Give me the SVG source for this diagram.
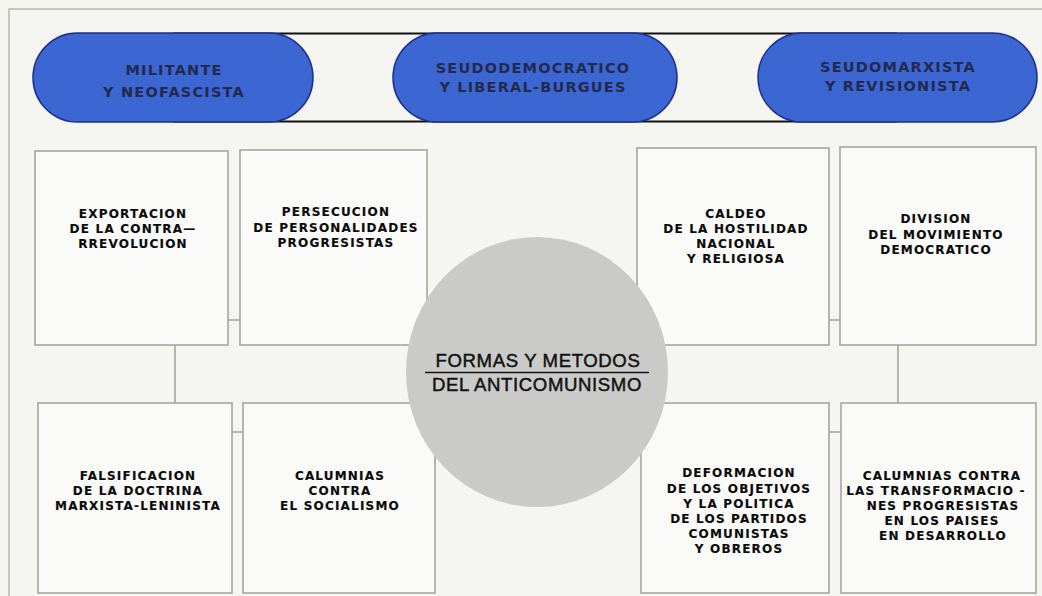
<svg xmlns="http://www.w3.org/2000/svg" width="1042" height="596" viewBox="0 0 1042 596">
<style>
.bg{fill:#f5f5f2}
.frame{fill:none;stroke:#bab7b0;stroke-width:1.5}
.box{fill:#fafaf8;stroke:#a9a69f;stroke-width:1.6}
.conn{fill:none;stroke:#a9a69f;stroke-width:1.6}
.pill{fill:#3c66d2;stroke:#1d2f8c;stroke-width:1.5}
.band{stroke:#111;stroke-width:2}
.pt{font-family:"DejaVu Sans","Liberation Sans",sans-serif;font-weight:bold;font-size:14.5px;letter-spacing:1.2px;fill:#232a4e;text-anchor:middle}
.bt{font-family:"DejaVu Sans","Liberation Sans",sans-serif;font-weight:bold;font-size:12px;letter-spacing:1.2px;fill:#0a0a0a;text-anchor:middle;stroke:#0a0a0a;stroke-width:0.15}
.ct{font-family:"Liberation Sans",Arial,sans-serif;font-size:18.6px;letter-spacing:0.6px;fill:#111;text-anchor:middle;stroke:#111;stroke-width:0.45}
</style>
<rect class="bg" x="0" y="0" width="1042" height="596"/>
<path class="frame" d="M9,596 V9 H1042"/>

<g id="connectors">
<line class="band" x1="173" y1="33.5" x2="897" y2="33.5"/>
<line class="band" x1="173" y1="121.5" x2="897" y2="121.5"/>
<line class="conn" x1="228" y1="320" x2="240" y2="320"/>
<line class="conn" x1="175" y1="345" x2="175" y2="403"/>
<line class="conn" x1="232" y1="432" x2="243" y2="432"/>
<line class="conn" x1="829" y1="320" x2="840" y2="320"/>
<line class="conn" x1="898" y1="345" x2="898" y2="403"/>
<line class="conn" x1="829" y1="432" x2="841" y2="432"/>
</g>

<g id="pill-militante">
<rect class="pill" x="33" y="33" width="280" height="89" rx="44.5"/>
<text class="pt" x="174" y="75">MILITANTE</text>
<text class="pt" x="174" y="97">Y NEOFASCISTA</text>
</g>
<g id="pill-seudodemocratico">
<rect class="pill" x="393" y="33" width="284" height="89" rx="44.5"/>
<text class="pt" x="533" y="73">SEUDODEMOCRATICO</text>
<text class="pt" x="533" y="92">Y LIBERAL-BURGUES</text>
</g>
<g id="pill-seudomarxista">
<rect class="pill" x="758" y="33" width="279" height="89" rx="44.5"/>
<text class="pt" x="898" y="72">SEUDOMARXISTA</text>
<text class="pt" x="898" y="91">Y REVISIONISTA</text>
</g>

<g id="box-exportacion">
<rect class="box" x="35" y="151" width="193" height="194"/>
<text class="bt" x="133" y="218">EXPORTACION</text>
<text class="bt" x="133" y="233">DE LA CONTRA—</text>
<text class="bt" x="133" y="248">RREVOLUCION</text>
</g>
<g id="box-persecucion">
<rect class="box" x="240" y="150" width="187" height="195"/>
<text class="bt" x="336" y="216">PERSECUCION</text>
<text class="bt" x="336" y="232">DE PERSONALIDADES</text>
<text class="bt" x="336" y="247">PROGRESISTAS</text>
</g>
<g id="box-caldeo">
<rect class="box" x="637" y="148" width="192" height="197"/>
<text class="bt" x="736" y="218">CALDEO</text>
<text class="bt" x="736" y="233">DE LA HOSTILIDAD</text>
<text class="bt" x="736" y="248">NACIONAL</text>
<text class="bt" x="736" y="263">Y RELIGIOSA</text>
</g>
<g id="box-division">
<rect class="box" x="840" y="147" width="196" height="198"/>
<text class="bt" x="936" y="223">DIVISION</text>
<text class="bt" x="936" y="239">DEL MOVIMIENTO</text>
<text class="bt" x="936" y="254">DEMOCRATICO</text>
</g>
<g id="box-falsificacion">
<rect class="box" x="38" y="403" width="194" height="190"/>
<text class="bt" x="138" y="480">FALSIFICACION</text>
<text class="bt" x="138" y="495">DE LA DOCTRINA</text>
<text class="bt" x="138" y="510">MARXISTA-LENINISTA</text>
</g>
<g id="box-calumnias-socialismo">
<rect class="box" x="243" y="403" width="192" height="190"/>
<text class="bt" x="340" y="480">CALUMNIAS</text>
<text class="bt" x="340" y="495">CONTRA</text>
<text class="bt" x="340" y="510">EL SOCIALISMO</text>
</g>
<g id="box-deformacion">
<rect class="box" x="641" y="403" width="188" height="190"/>
<text class="bt" x="739" y="477">DEFORMACION</text>
<text class="bt" x="739" y="493">DE LOS OBJETIVOS</text>
<text class="bt" x="739" y="508">Y LA POLITICA</text>
<text class="bt" x="739" y="523">DE LOS PARTIDOS</text>
<text class="bt" x="739" y="538">COMUNISTAS</text>
<text class="bt" x="739" y="553">Y OBREROS</text>
</g>
<g id="box-calumnias-transformaciones">
<rect class="box" x="841" y="403" width="195" height="190"/>
<text class="bt" x="942" y="480">CALUMNIAS CONTRA</text>
<text class="bt" x="936" y="495">LAS TRANSFORMACIO -</text>
<text class="bt" x="943" y="510">NES PROGRESISTAS</text>
<text class="bt" x="942" y="525">EN LOS PAISES</text>
<text class="bt" x="943" y="540">EN DESARROLLO</text>
</g>

<g id="center">
<ellipse cx="537" cy="372" rx="131" ry="135" fill="#cacac8"/>
<text class="ct" x="538" y="367">FORMAS Y METODOS</text>
<line x1="425" y1="372.5" x2="649" y2="372.5" stroke="#111" stroke-width="1.6"/>
<text class="ct" x="537" y="391">DEL ANTICOMUNISMO</text>
</g>
</svg>
